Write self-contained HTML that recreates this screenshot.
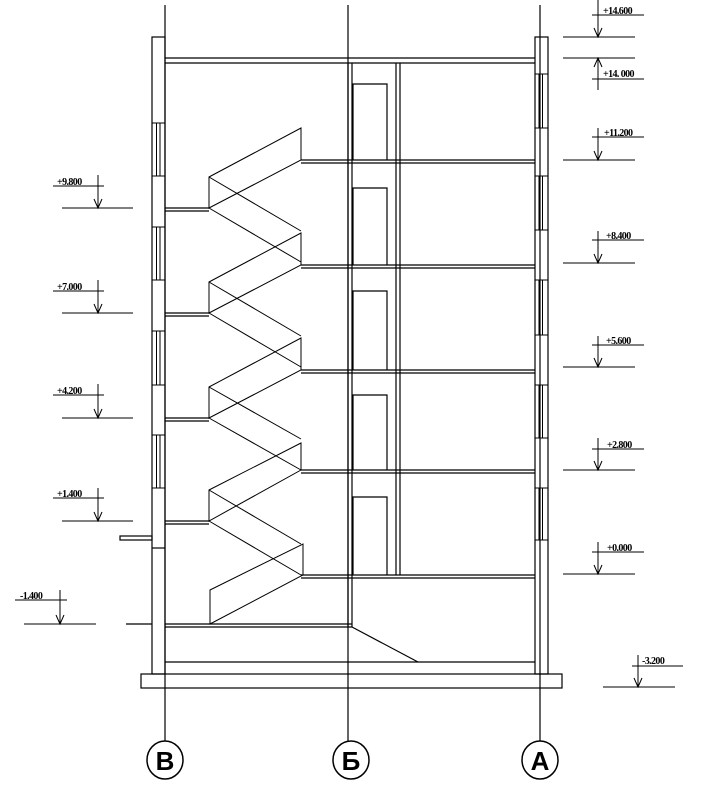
<!DOCTYPE html>
<html><head><meta charset="utf-8"><style>
html,body{margin:0;padding:0;background:#fff;}
svg{display:block;}
text{font-family:"Liberation Serif",serif;font-size:10px;letter-spacing:-0.6px;fill:#000;font-weight:bold;}
.ax{font-family:"Liberation Sans",sans-serif;font-size:26px;letter-spacing:0;font-weight:bold;}
</style></head><body>
<svg width="709" height="810" viewBox="0 0 709 810" xmlns="http://www.w3.org/2000/svg" stroke="#000" stroke-width="1.2" fill="none">
<!-- axes -->
<line x1="165" y1="5" x2="165" y2="741"/>
<line x1="348" y1="5" x2="348" y2="741"/>
<line x1="540" y1="5" x2="540" y2="741"/>
<ellipse cx="165" cy="760" rx="18" ry="19" stroke-width="1.5"/>
<ellipse cx="351" cy="760" rx="18" ry="19" stroke-width="1.5"/>
<ellipse cx="540" cy="760" rx="18" ry="19" stroke-width="1.5"/>
<text class="ax" x="165" y="770" text-anchor="middle" stroke="none">В</text>
<text class="ax" x="351" y="770" text-anchor="middle" stroke="none">Б</text>
<text class="ax" x="540" y="770" text-anchor="middle" stroke="none">А</text>

<!-- walls -->
<rect x="152" y="37" width="13" height="637"/>
<rect x="535" y="37" width="13" height="637"/>
<!-- left windows -->
<g stroke-width="1">
<path d="M152 123H165M152 176H165M156.5 123V176M160 123V176"/>
<path d="M152 227H165M152 280H165M156.5 227V280M160 227V280"/>
<path d="M152 331H165M152 385H165M156.5 331V385M160 331V385"/>
<path d="M152 435H165M152 488H165M156.5 435V488M160 435V488"/>
</g>
<!-- right windows -->
<g stroke-width="1">
<path d="M535 74H548M535 128H548M539 74V128M542.5 74V128"/>
<path d="M535 176H548M535 230H548M539 176V230M542.5 176V230"/>
<path d="M535 280H548M535 335H548M539 280V335M542.5 280V335"/>
<path d="M535 385H548M535 438H548M539 385V438M542.5 385V438"/>
<path d="M535 488H548M535 540H548M539 488V540M542.5 488V540"/>
</g>
<!-- canopy -->
<rect x="120" y="536" width="32" height="4"/>
<line x1="152" y1="548" x2="165" y2="548"/>
<!-- roof -->
<line x1="165" y1="58" x2="535" y2="58"/><line x1="165" y1="63" x2="535" y2="63"/>
<!-- column Б and partition -->
<line x1="348" y1="63" x2="348" y2="627"/><line x1="352" y1="63" x2="352" y2="627"/>
<line x1="396" y1="63" x2="396" y2="575"/><line x1="400" y1="63" x2="400" y2="575"/>
<!-- floors -->
<g>
<path d="M301 160H535M301 163H535"/>
<path d="M301 265H535M301 268H535"/>
<path d="M301 370H535M301 373H535"/>
<path d="M301 470H535M301 473H535"/>
<path d="M301 575H535M301 578H535"/>
</g>
<!-- doors -->
<path d="M353 160V84H387V160"/>
<path d="M353 265V188H387V265"/>
<path d="M353 370V291H387V370"/>
<path d="M353 470V395H387V470"/>
<path d="M353 575V497H387V575"/>
<!-- left mid landings -->
<path d="M165 208H209M165 211H209"/>
<path d="M165 313H209M165 316H209"/>
<path d="M165 418H209M165 421H209"/>
<path d="M165 521H209M165 524H209"/>
<!-- stairs flights -->
<g stroke-width="1">
<path d="M209 177L301 128V160L209 208Z"/>
<path d="M209 177L301 231M209 208L301 262"/>
<path d="M209 282L301 233V265L209 313Z"/>
<path d="M209 282L301 336M209 313L301 367"/>
<path d="M209 387L301 338V370L209 418Z"/>
<path d="M209 387L301 439M209 418L301 470"/>
<path d="M209 490L301 443V470L209 521Z"/>
<path d="M209 490L301 544M209 521L301 575"/>
<path d="M210 590L303 544V575L210 624Z"/>
</g>
<!-- basement -->
<path d="M165 624H352M165 627H352"/>
<line x1="126" y1="624" x2="152" y2="624"/>
<line x1="352" y1="627" x2="418" y2="662"/>
<line x1="165" y1="662" x2="535" y2="662"/>
<rect x="141" y="674" width="421" height="14"/>

<!-- right level marks -->
<g stroke-width="1">
<path d="M592 15H644M598 0V37M563 37H635M594 28L598 37L602 28"/>
<path d="M563 58H635M598 58V90M592 79H644M594 67L598 58L602 67"/>
<path d="M592 137H644M598 128V160M563 160H635M594 151L598 160L602 151"/>
<path d="M592 240H644M598 231V263M563 263H635M594 254L598 263L602 254"/>
<path d="M592 345H644M598 336V367M563 367H635M594 358L598 367L602 358"/>
<path d="M592 449H644M598 438V470M563 470H635M594 461L598 470L602 461"/>
<path d="M592 552H644M598 542V574M563 574H635M594 565L598 574L602 565"/>
<path d="M632 666H683M638 655V687M603 687H675M634 678L638 687L642 678"/>
<path d="M53 186H104M98 175V208M62 208H133M94 199L98 208L102 199"/>
<path d="M53 291H104M98 280V313M62 313H133M94 304L98 313L102 304"/>
<path d="M53 395H104M98 384V418M62 418H133M94 409L98 418L102 409"/>
<path d="M53 498H104M98 488V521M62 521H133M94 512L98 521L102 512"/>
<path d="M15 600H67M60 590V624M24 624H96M56 615L60 624L64 615"/>
</g>
<g stroke="none">
<text x="603" y="14">+14.600</text>
<text x="603" y="77">+14. 000</text>
<text x="604" y="136">+11.200</text>
<text x="606" y="239">+8.400</text>
<text x="606" y="344">+5.600</text>
<text x="607" y="448">+2.800</text>
<text x="607" y="551">+0.000</text>
<text x="642" y="664">-3.200</text>
<text x="57" y="185">+9.800</text>
<text x="57" y="290">+7.000</text>
<text x="57" y="394">+4.200</text>
<text x="57" y="497">+1.400</text>
<text x="20" y="599">-1.400</text>
</g>
</svg>
</body></html>
